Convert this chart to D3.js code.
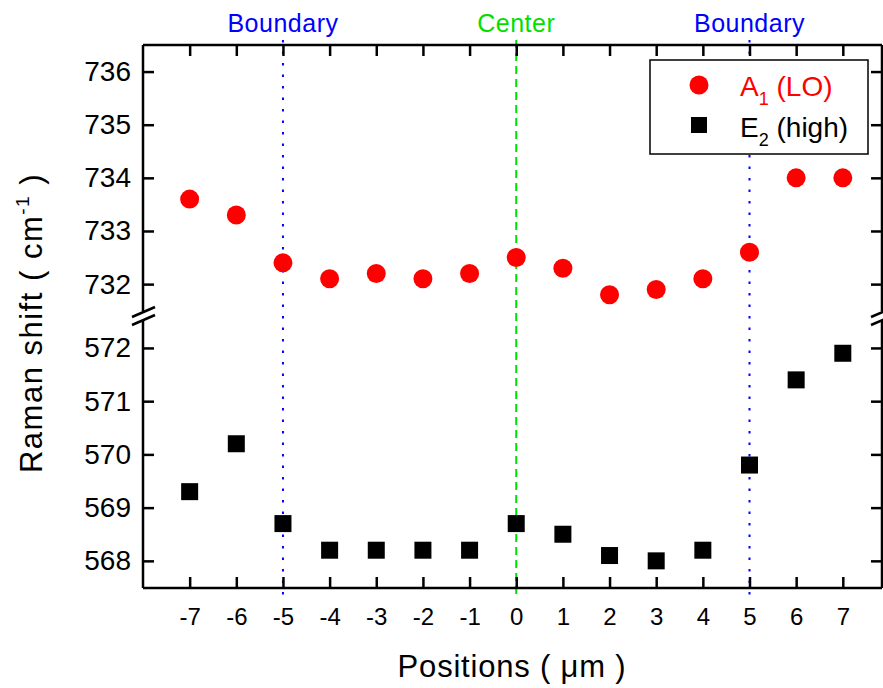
<!DOCTYPE html>
<html>
<head>
<meta charset="utf-8">
<script src="https://cdn.jsdelivr.net/npm/d3@7"></script>
<style>
  body { margin: 0; background: #fff; }
  svg { font-family: "Liberation Sans", Arial, sans-serif; }
</style>
</head>
<body>
<div id="chart"></div>
<script>
// data
const positions = [-7, -6, -5, -4, -3, -2, -1, 0, 1, 2, 3, 4, 5, 6, 7];
const a1LO = [733.6, 733.3, 732.4, 732.1, 732.2, 732.1, 732.2, 732.5, 732.3, 731.8, 731.9, 732.1, 732.6, 734.0, 734.0];
const e2High = [569.3, 570.2, 568.7, 568.2, 568.2, 568.2, 568.2, 568.7, 568.5, 568.1, 568.0, 568.2, 569.8, 571.4, 571.9];
const upperTicks = [732, 733, 734, 735, 736];
const lowerTicks = [568, 569, 570, 571, 572];
const markers = [
  { x: -5, label: "Boundary", color: "#0000ff", dash: "2.5,9" },
  { x: 0, label: "Center", color: "#00e000", dash: "8,5" },
  { x: 5, label: "Boundary", color: "#0000ff", dash: "2.5,9" }
];

const W = 883, H = 688;
const pL = 143, pR = 882, pT = 45, pB = 588, breakY = 316;

const svg = d3.select("#chart").append("svg")
  .attr("width", W).attr("height", H);

const x = d3.scaleLinear().domain([-8, 7.84]).range([pL, pR]);
const yUp = d3.scaleLinear().domain([731.4, 736.5]).range([breakY, pT]);
const yLo = d3.scaleLinear().domain([567.49, 572.6]).range([pB, breakY]);

// vertical reference lines
markers.forEach(m => {
  svg.append("line")
    .attr("x1", x(m.x)).attr("x2", x(m.x))
    .attr("y1", 40).attr("y2", 598)
    .attr("stroke", m.color).attr("stroke-width", 2)
    .attr("stroke-dasharray", m.dash);
  svg.append("text")
    .attr("x", x(m.x)).attr("y", 32)
    .attr("text-anchor", "middle")
    .attr("font-size", "25px")
    .attr("letter-spacing", "0.5px")
    .attr("fill", m.color)
    .text(m.label);
});

// frame (left/right broken at breakY)
const frame = svg.append("g").attr("stroke", "#000").attr("stroke-width", 2.5).attr("fill", "none");
frame.append("line").attr("x1", pL).attr("x2", pR).attr("y1", pT).attr("y2", pT);
frame.append("line").attr("x1", pL).attr("x2", pR).attr("y1", pB).attr("y2", pB);
[pL, pR].forEach(ax => {
  frame.append("line").attr("x1", ax).attr("x2", ax).attr("y1", pT).attr("y2", breakY - 5);
  frame.append("line").attr("x1", ax).attr("x2", ax).attr("y1", breakY + 4).attr("y2", pB);
  // break marks
  [-4, 4].forEach(o => {
    frame.append("line")
      .attr("x1", ax - 11).attr("y1", breakY + o + 5)
      .attr("x2", ax + 12).attr("y2", breakY + o - 5);
  });
});

// x axes (ticks inward)
const xBottom = d3.axisBottom(x).tickValues(positions).tickSize(-11).tickPadding(20).tickFormat(d => d);
svg.append("g").attr("class", "xax").attr("transform", `translate(0,${pB})`).call(xBottom);
svg.append("g").attr("transform", `translate(0,${pT})`)
  .call(d3.axisTop(x).tickValues(positions).tickSize(-11).tickFormat(""));

// y axes
const yAxis = (g, scale, ticks, side) => {
  const a = side === "left" ? d3.axisLeft(scale) : d3.axisRight(scale);
  g.attr("class", side === "left" ? "yax" : null)
    .call(a.tickValues(ticks).tickSize(-11).tickPadding(side === "left" ? 12 : 0)
    .tickFormat(side === "left" ? d => d : ""));
};
yAxis(svg.append("g").attr("transform", `translate(${pL},0)`), yUp, upperTicks, "left");
yAxis(svg.append("g").attr("transform", `translate(${pL},0)`), yLo, lowerTicks, "left");
yAxis(svg.append("g").attr("transform", `translate(${pR},0)`), yUp, upperTicks, "right");
yAxis(svg.append("g").attr("transform", `translate(${pR},0)`), yLo, lowerTicks, "right");

svg.selectAll(".domain").remove();
svg.selectAll(".tick line").attr("stroke", "#000").attr("stroke-width", 2.5);
svg.selectAll(".tick text").attr("fill", "#000")
  .attr("font-family", "'Liberation Sans', Arial, sans-serif");
svg.selectAll(".xax .tick text").attr("font-size", "24px");
svg.selectAll(".yax .tick text").attr("font-size", "28px");

// points
svg.append("g").selectAll("circle")
  .data(positions.map((p, i) => ({ p, v: a1LO[i] })))
  .join("circle")
  .attr("cx", d => x(d.p)).attr("cy", d => yUp(d.v))
  .attr("r", 9.5).attr("fill", "#ff0000");

const sq = 17;
svg.append("g").selectAll("rect")
  .data(positions.map((p, i) => ({ p, v: e2High[i] })))
  .join("rect")
  .attr("x", d => x(d.p) - sq / 2).attr("y", d => yLo(d.v) - sq / 2)
  .attr("width", sq).attr("height", sq).attr("fill", "#000");

// legend
const lg = svg.append("g");
lg.append("rect").attr("x", 650).attr("y", 60).attr("width", 218).attr("height", 94)
  .attr("fill", "#fff").attr("stroke", "#000").attr("stroke-width", 1.5);
lg.append("circle").attr("cx", 699).attr("cy", 85).attr("r", 9.5).attr("fill", "#ff0000");
lg.append("rect").attr("x", 699 - 8).attr("y", 125 - 8).attr("width", 16).attr("height", 16).attr("fill", "#000");
const t1 = lg.append("text").attr("x", 740).attr("y", 96).attr("font-size", "28px").attr("fill", "#ff0000");
t1.append("tspan").text("A");
t1.append("tspan").attr("font-size", "18px").attr("dy", 9).text("1");
t1.append("tspan").attr("dy", -9).text(" (LO)");
const t2 = lg.append("text").attr("x", 740).attr("y", 137).attr("font-size", "28px").attr("fill", "#000");
t2.append("tspan").text("E");
t2.append("tspan").attr("font-size", "18px").attr("dy", 9).text("2");
t2.append("tspan").attr("dy", -9).text(" (high)");

// axis titles
svg.append("text").attr("x", 512).attr("y", 677)
  .attr("text-anchor", "middle").attr("font-size", "31px").attr("letter-spacing", "0.8px")
  .text("Positions ( \u03bcm )");
const yl = svg.append("text")
  .attr("transform", "translate(42,323) rotate(-90)")
  .attr("text-anchor", "middle").attr("font-size", "31px").attr("letter-spacing", "1.5px");
yl.append("tspan").text("Raman shift ( cm");
yl.append("tspan").attr("font-size", "19px").attr("dy", -13).text("-1");
yl.append("tspan").attr("dy", 13).text(" )");
</script>
</body>
</html>
